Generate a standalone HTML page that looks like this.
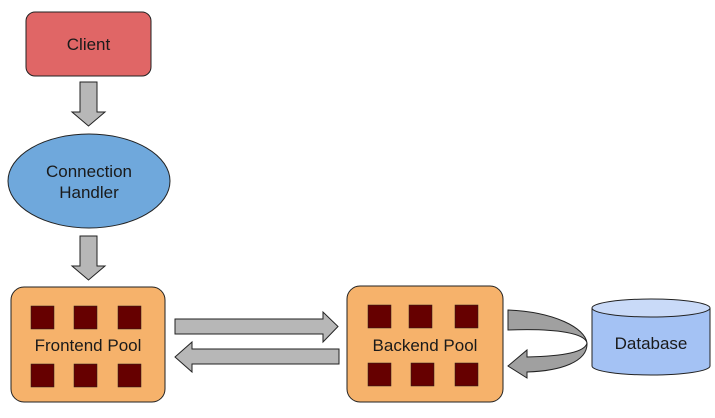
<!DOCTYPE html>
<html><head><meta charset="utf-8"><style>
html,body{margin:0;padding:0;background:#fff;}
svg{display:block;}
text{font-family:"Liberation Sans",sans-serif;font-size:17px;fill:#1a1a1a;}
</style></head><body>
<svg width="715" height="418" viewBox="0 0 715 418" xmlns="http://www.w3.org/2000/svg">
<rect x="26" y="12" width="125" height="64" rx="9" fill="#e06666" stroke="#222" stroke-width="1"/>
<text x="88.5" y="50" text-anchor="middle">Client</text>
<path d="M80 82 H97 V112 H105 L88.5 126 L72 112 H80 Z" fill="#b7b7b7" stroke="#222"/>
<ellipse cx="89" cy="181" rx="81" ry="47" fill="#6fa8dc" stroke="#222"/>
<text x="89" y="177" text-anchor="middle">Connection</text>
<text x="89" y="198" text-anchor="middle">Handler</text>
<path d="M80 236 H97 V266 H105 L88.5 280 L72 266 H80 Z" fill="#b7b7b7" stroke="#222"/>
<rect x="11" y="287" width="154" height="115" rx="13" fill="#f6b26b" stroke="#222"/>
<g fill="#660000" stroke="#222" stroke-width="0.5">
<rect x="31" y="306" width="23" height="23"/><rect x="74" y="306" width="23" height="23"/><rect x="118" y="306" width="23" height="23"/>
<rect x="31" y="364" width="23" height="23"/><rect x="74" y="364" width="23" height="23"/><rect x="118" y="364" width="23" height="23"/>
</g>
<text x="88" y="351" text-anchor="middle">Frontend Pool</text>
<path d="M175 319 H323 V312 L338 326.5 L323 342 V334 H175 Z" fill="#b7b7b7" stroke="#222"/>
<path d="M339 349 H192 V342 L175 357 L192 372 V364 H339 Z" fill="#b7b7b7" stroke="#222"/>
<rect x="347" y="286" width="156" height="116" rx="13" fill="#f6b26b" stroke="#222"/>
<g fill="#660000" stroke="#222" stroke-width="0.5">
<rect x="368" y="305" width="23" height="23"/><rect x="409" y="305" width="23" height="23"/><rect x="455" y="305" width="23" height="23"/>
<rect x="368" y="363" width="23" height="23"/><rect x="411" y="363" width="23" height="23"/><rect x="455" y="363" width="23" height="23"/>
</g>
<text x="425" y="351" text-anchor="middle">Backend Pool</text>
<path d="M508 310 C555 312 585 328 587 343 C585 352 565 356 527 357 V350 L508 366 L527 378 V372 C560 371 588 362 587 343 C585 334 560 328 508 330 Z" fill="#a0a0a0" stroke="#222"/>
<path d="M592 308 V366 A59 9 0 0 0 710 366 V308" fill="#a4c2f4" stroke="#222"/>
<ellipse cx="651" cy="308" rx="59" ry="9" fill="#c9daf8" stroke="#222"/>
<text x="651" y="349" text-anchor="middle">Database</text>
</svg>
</body></html>
